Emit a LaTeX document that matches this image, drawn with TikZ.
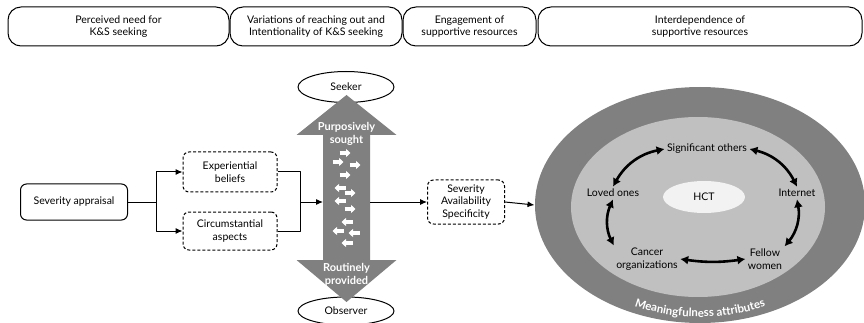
\documentclass[tikz,border=0pt]{standalone}
\usepackage{fontspec}
\setmainfont{Lato}
\usetikzlibrary{arrows.meta,shapes.geometric,decorations.text}
\definecolor{darkgrey}{RGB}{128,128,128}
\definecolor{midgrey}{RGB}{192,192,192}
\definecolor{palegrey}{RGB}{242,242,242}
\begin{document}
\begin{tikzpicture}[x=1pt,y=1pt,>={Latex[length=7pt,width=6pt]},line join=round,line width=1pt,font=\fontsize{10.5}{12.5}\selectfont,
	phase/.style={draw,rounded corners=13pt,minimum height=39pt,align=center,inner sep=0pt},
	solidbox/.style={draw,rounded corners=6pt,align=center,inner sep=0pt},
	dashbox/.style={draw,dash pattern=on 3pt off 2pt,rounded corners=6pt,align=center,inner sep=0pt},
	role/.style={draw,ellipse,fill=white,minimum width=96pt,inner sep=0pt},
	wtext/.style={text=white,font=\fontsize{11}{12.5}\selectfont\bfseries,align=center},
	warr/.style={white,line width=3.6pt,-{Triangle[length=4.5pt,width=8pt]}},
	barr/.style={line width=2.6pt,{Latex[length=8pt,width=9pt]}-{Latex[length=8pt,width=9pt]}}]
		\useasboundingbox (0,0) rectangle (864,-323);
		\def\ra(#1,#2){\draw[warr] (#1-5.5,-#2)--(#1+5.5,-#2);}
		\def\la(#1,#2){\draw[warr] (#1+5.5,-#2)--(#1-5.5,-#2);}
		% phases
		\node[phase,minimum width=221pt] (need) at (118.5,-26.5) {Perceived need for\\K\&S seeking};
		\node[phase,minimum width=172pt] (reach) at (316,-26.5) {Variations of reaching out and\\Intentionality of K\&S seeking};
		\node[phase,minimum width=133pt] (engage) at (469.5,-26.5) {Engagement of\\supportive resources};
		\node[phase,minimum width=324pt] (interdep) at (700,-26.5) {Interdependence of\\supportive resources};
		% appraisal
		\node[solidbox,minimum width=107pt,minimum height=36pt] (sev) at (74,-202) {Severity appraisal};
		\node[dashbox,minimum width=94pt,minimum height=40pt] (exp) at (230,-172) {Experiential\\beliefs};
		\node[dashbox,minimum width=94pt,minimum height=38pt] (circ) at (230,-231) {Circumstantial\\aspects};
		\draw (sev.east)--++(28,0) coordinate (split);
		\draw[->] (split)|-(exp.west);
		\draw[->] (split)|-(circ.west);
		\coordinate (merge) at (300,-202);
		\coordinate (shaftl) at (323,-202);
		\coordinate (shaftr) at (370,-202);
		\draw (exp.east)-|(merge);
		\draw (circ.east)-|(merge);
		\draw[->] (merge)--(shaftl);
		% seeker and observer
		\node[role,minimum height=31pt] (seeker) at (346,-87) {Seeker};
		\node[role,minimum height=28pt] (observer) at (346,-311) {Observer};
		\fill[darkgrey] (346.5,-95)--(396.5,-135)--(370,-135)--(370,-260)--(396.5,-260)--(346.5,-302)
			--(296.5,-260)--(323,-260)--(323,-135)--(296.5,-135)--cycle;
		\node[wtext] (sought) at (346.5,-134) {Purposively\\sought};
		\node[wtext] (provided) at (346.5,-275) {Routinely\\provided};
		\ra(345,153) \ra(338,162) \ra(355,165) \ra(345,175)
		\la(340,188) \ra(350,193) \la(340,201) \ra(350,209)
		\la(347,222) \la(338,231) \la(354,233) \la(347,243)
		% attributes
		\node[dashbox,minimum width=77pt,minimum height=44pt] (attr) at (466,-202) {Severity\\Availability\\Specificity};
		\draw[->] (shaftr)--(attr.west);
		% resources
		\node[ellipse,fill=darkgrey,minimum width=330pt,minimum height=236pt] (outer) at (700,-205) {};
		\node[ellipse,fill=midgrey,minimum width=254pt,minimum height=180pt] (inner) at (698,-207) {};
		\node[ellipse,fill=palegrey,minimum width=82pt,minimum height=32pt] (hct) at (704,-197) {HCT};
		\draw[->] (attr.east)--(outer.west);
		\path[decorate,decoration={text along path,text align=center,
			text={|\fontsize{11.5}{13}\selectfont\bfseries\color{white}|Meaningfulness attributes}}]
			(700,-205) ++(215:152 and 112) arc[start angle=215,end angle=325,x radius=152,y radius=112];
		\node[inner sep=2pt] (sig) at (707,-149) {Significant others};
		\node[inner sep=2pt] (loved) at (613,-193) {Loved ones};
		\node[inner sep=2pt] (net) at (797,-193) {Internet};
		\node[inner sep=2pt,align=center] (cancer) at (647,-259) {Cancer\\organizations};
		\node[inner sep=2pt,align=center] (fellow) at (765,-259) {Fellow\\women};
		\draw[barr] (loved.north) to[bend left=25] (sig.west);
		\draw[barr] (sig.east) to[bend left=25] (net.north);
		\draw[barr] (net.south) to[bend left=25] (fellow.north east);
		\draw[barr] (loved.south) to[bend right=25] (cancer.north west);
		\draw[barr] (cancer.east) to[bend right=8] (fellow.west);
\end{tikzpicture}
\end{document}
